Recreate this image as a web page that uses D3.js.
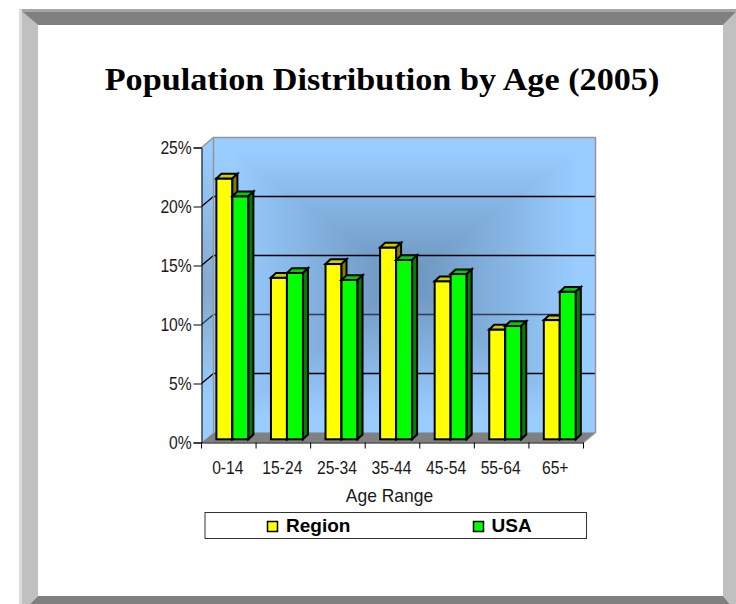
<!DOCTYPE html>
<html>
<head>
<meta charset="utf-8">
<script src="https://cdn.jsdelivr.net/npm/d3@7"></script>
<style>
html,body{margin:0;padding:0;background:#fff;overflow:hidden;}
svg{display:block;}
</style>
</head>
<body>
<script>
const categories = ["0-14","15-24","25-34","35-44","45-54","55-64","65+"];
const seriesNames = ["Region","USA"];
const regionValues = [22.1,13.7,14.85,16.25,13.4,9.3,10.1];
const usaValues = [20.6,14.1,13.5,15.2,14.0,9.6,12.5];
const yTicks = [0,5,10,15,20,25];

const W = 736, H = 604;
const svg = d3.select("body").append("svg").attr("width",W).attr("height",H);
const defs = svg.append("defs");

// Slide frame: bevelled grey border, running off the right and bottom edges
const fr = {l:19,t:9,r:739,b:615,il:38,it:25,ir:723,ib:596};
svg.append("polygon").attr("points",`${fr.l},${fr.t} ${fr.il},${fr.it} ${fr.il},${fr.ib} ${fr.l},${fr.b}`).attr("fill","#c0c0c0");
svg.append("polygon").attr("points",`${fr.r},${fr.t} ${fr.ir},${fr.it} ${fr.ir},${fr.ib} ${fr.r},${fr.b}`).attr("fill","#c0c0c0");
svg.append("polygon").attr("points",`${fr.l},${fr.t} ${fr.r},${fr.t} ${fr.ir},${fr.it} ${fr.il},${fr.it}`).attr("fill","#808080");
svg.append("polygon").attr("points",`${fr.l},${fr.b} ${fr.r},${fr.b} ${fr.ir},${fr.ib} ${fr.il},${fr.ib}`).attr("fill","#808080");
svg.append("rect").attr("x",fr.l).attr("y",fr.t).attr("width",fr.r-fr.l).attr("height",3).attr("fill","#a6a6a6");
svg.append("rect").attr("x",fr.l).attr("y",fr.t).attr("width",3).attr("height",fr.b-fr.t).attr("fill","#dcdcdc");

// Title, widened to a broad book-face proportion
svg.append("text").attr("transform","translate(382,90) scale(1.103,1)").attr("text-anchor","middle")
  .attr("font-family","'Liberation Serif',serif").attr("font-weight","bold")
  .attr("font-size",31).attr("fill","#000").text("Population Distribution by Age (2005)");

// Plot geometry: front plane, back wall offset by the 3D depth
const depthX = 12, depthY = -10;
const x0 = 201.5, x1 = 583.5, yBase = 442.5, yTop = 147.5;
const x = d3.scaleBand().domain(categories).range([x0,x1]);
const y = d3.scaleLinear().domain([0,25]).range([yBase,yTop]);

// Rectangular path fill on the back wall
const wall = {x0:x0+depthX,x1:x1+depthX,y0:yTop+depthY,y1:yBase+depthY};
const cx = 405, cy = 278;
const light="#99ccff", dark="#6b93bb", lightStop=0.9;
function grad(id,ax,ay,bx,by){
  const g=defs.append("linearGradient").attr("id",id).attr("gradientUnits","userSpaceOnUse")
    .attr("x1",ax).attr("y1",ay).attr("x2",bx).attr("y2",by);
  g.append("stop").attr("offset",0).attr("stop-color",dark);
  g.append("stop").attr("offset",lightStop).attr("stop-color",light);
}
grad("gL",cx,0,wall.x0,0); grad("gR",cx,0,wall.x1,0);
grad("gT",0,cy,0,wall.y0); grad("gB",0,cy,0,wall.y1);
const bg=svg.append("g").attr("shape-rendering","crispEdges");
[["gL",[[wall.x0,wall.y0],[cx,cy],[wall.x0,wall.y1]]],
 ["gR",[[wall.x1,wall.y0],[cx,cy],[wall.x1,wall.y1]]],
 ["gT",[[wall.x0,wall.y0],[cx,cy],[wall.x1,wall.y0]]],
 ["gB",[[wall.x0,wall.y1],[cx,cy],[wall.x1,wall.y1]]]].forEach(([id,p])=>{
  bg.append("polygon").attr("points",p.join(" ")).attr("fill",`url(#${id})`);
});

// Side wall, darker through its middle
const sideGrad=defs.append("linearGradient").attr("id","gSide").attr("gradientUnits","userSpaceOnUse")
  .attr("x1",0).attr("y1",wall.y0).attr("x2",0).attr("y2",yBase);
[[0.03,light],[0.5,"#86a9cd"],[0.85,light]].forEach(([o,c])=>sideGrad.append("stop").attr("offset",o).attr("stop-color",c));
svg.append("polygon")
  .attr("points",`${x0},${yTop} ${wall.x0},${wall.y0} ${wall.x0},${wall.y1} ${x0},${yBase}`)
  .attr("fill","url(#gSide)");

// Floor
svg.append("polygon")
  .attr("points",`${x0},${yBase} ${wall.x0},${wall.y1} ${wall.x1},${wall.y1} ${x1},${yBase}`)
  .attr("fill","#808080");

// Gridlines along side wall and back wall
yTicks.filter(d=>d>0&&d<25).forEach(d=>{
  svg.append("path").attr("d",`M${x0},${y(d)}L${x0+depthX},${y(d)+depthY}L${x1+depthX},${y(d)+depthY}`)
    .attr("fill","none").attr("stroke",d===10?"#2c3e50":"#000").attr("stroke-width",1.3);
});
// Wall outline
svg.append("path").attr("d",`M${x0},${yTop}L${wall.x0},${wall.y0}L${wall.x1},${wall.y0}L${wall.x1},${wall.y1}L${x1},${yBase}`)
  .attr("fill","none").attr("stroke","#969696").attr("stroke-width",1.5);
svg.append("line").attr("x1",wall.x0).attr("x2",wall.x0).attr("y1",wall.y0).attr("y2",wall.y1)
  .attr("stroke","#969696").attr("stroke-width",1.5);

// Axes; labels are narrowed horizontally to a condensed sans look
const narrow = 0.87;
const yAxis=svg.append("g").attr("transform",`translate(${x0},0)`)
  .call(d3.axisLeft(y).tickValues(yTicks).tickSize(8).tickFormat(d=>d+"%"));
const xAxis=svg.append("g").attr("transform",`translate(0,${yBase})`)
  .call(d3.axisBottom(x).tickSize(0));
xAxis.selectAll(".tick line").remove();
xAxis.selectAll(".tickmark").data(d3.range(categories.length+1)).enter().append("line")
  .attr("x1",i=>x0+i*x.step()).attr("x2",i=>x0+i*x.step()).attr("y1",0).attr("y2",6).attr("stroke","#000");
[yAxis,xAxis].forEach(a=>{
  a.selectAll("text").attr("font-family","'Liberation Sans',Arial,sans-serif").attr("font-size",18).attr("fill","#1a1a1a")
   .attr("transform",`scale(${narrow},1)`);
  a.select(".domain").attr("stroke","#000");
});
yAxis.selectAll("text").attr("x",-9.8/narrow).attr("dy","0.35em");
xAxis.selectAll("text").attr("y",31.5).attr("dy",0).attr("x",-1/narrow);

// 3D bars
const barFront = 439.3, unit = (yBase-yTop)/25;
const barW = 16, sideX = 5, sideY = -4.7, pairShift = 3.6;
const barY = v => barFront - v*unit;
const colours = {Region:{front:"#ffff00",top:"#cccc00",side:"#808000"},USA:{front:"#00ff00",top:"#00cc00",side:"#008000"}};
function drawBar(cat,i,s,v){
  const c=colours[s];
  const left=x(cat)+x.bandwidth()/2+pairShift-barW+i*barW;
  const yt=barY(v), g=svg.append("g").attr("stroke","#000").attr("stroke-width",2).attr("stroke-linejoin","miter");
  g.append("rect").attr("x",left).attr("y",yt).attr("width",barW).attr("height",barFront-yt).attr("fill",c.front);
  g.append("polygon").attr("points",`${left},${yt} ${left+sideX},${yt+sideY} ${left+barW+sideX},${yt+sideY} ${left+barW},${yt}`).attr("fill",c.top);
  g.append("polygon").attr("points",`${left+barW},${yt} ${left+barW+sideX},${yt+sideY} ${left+barW+sideX},${barFront+sideY} ${left+barW},${barFront}`).attr("fill",c.side);
}
categories.forEach((c,k)=>{
  drawBar(c,0,"Region",regionValues[k]);
  drawBar(c,1,"USA",usaValues[k]);
});

svg.append("text").attr("transform","translate(389.5,502) scale(0.97,1)").attr("text-anchor","middle")
  .attr("font-family","'Liberation Sans',Arial,sans-serif").attr("font-size",18).attr("fill","#1a1a1a").text("Age Range");

// Legend
svg.append("rect").attr("x",205).attr("y",512.5).attr("width",381.5).attr("height",26).attr("fill","#fff").attr("stroke","#333").attr("stroke-width",1);
[[267.5,286],[473.5,491.5]].forEach(([sx,tx],i)=>{
  svg.append("rect").attr("x",sx).attr("y",521.5).attr("width",10).attr("height",10)
    .attr("fill",colours[seriesNames[i]].front).attr("stroke","#000").attr("stroke-width",1.5);
  svg.append("text").attr("x",tx).attr("y",532.3).attr("font-family","'Liberation Sans',Arial,sans-serif")
    .attr("font-weight","bold").attr("font-size",19).text(seriesNames[i]);
});
</script>
</body>
</html>
